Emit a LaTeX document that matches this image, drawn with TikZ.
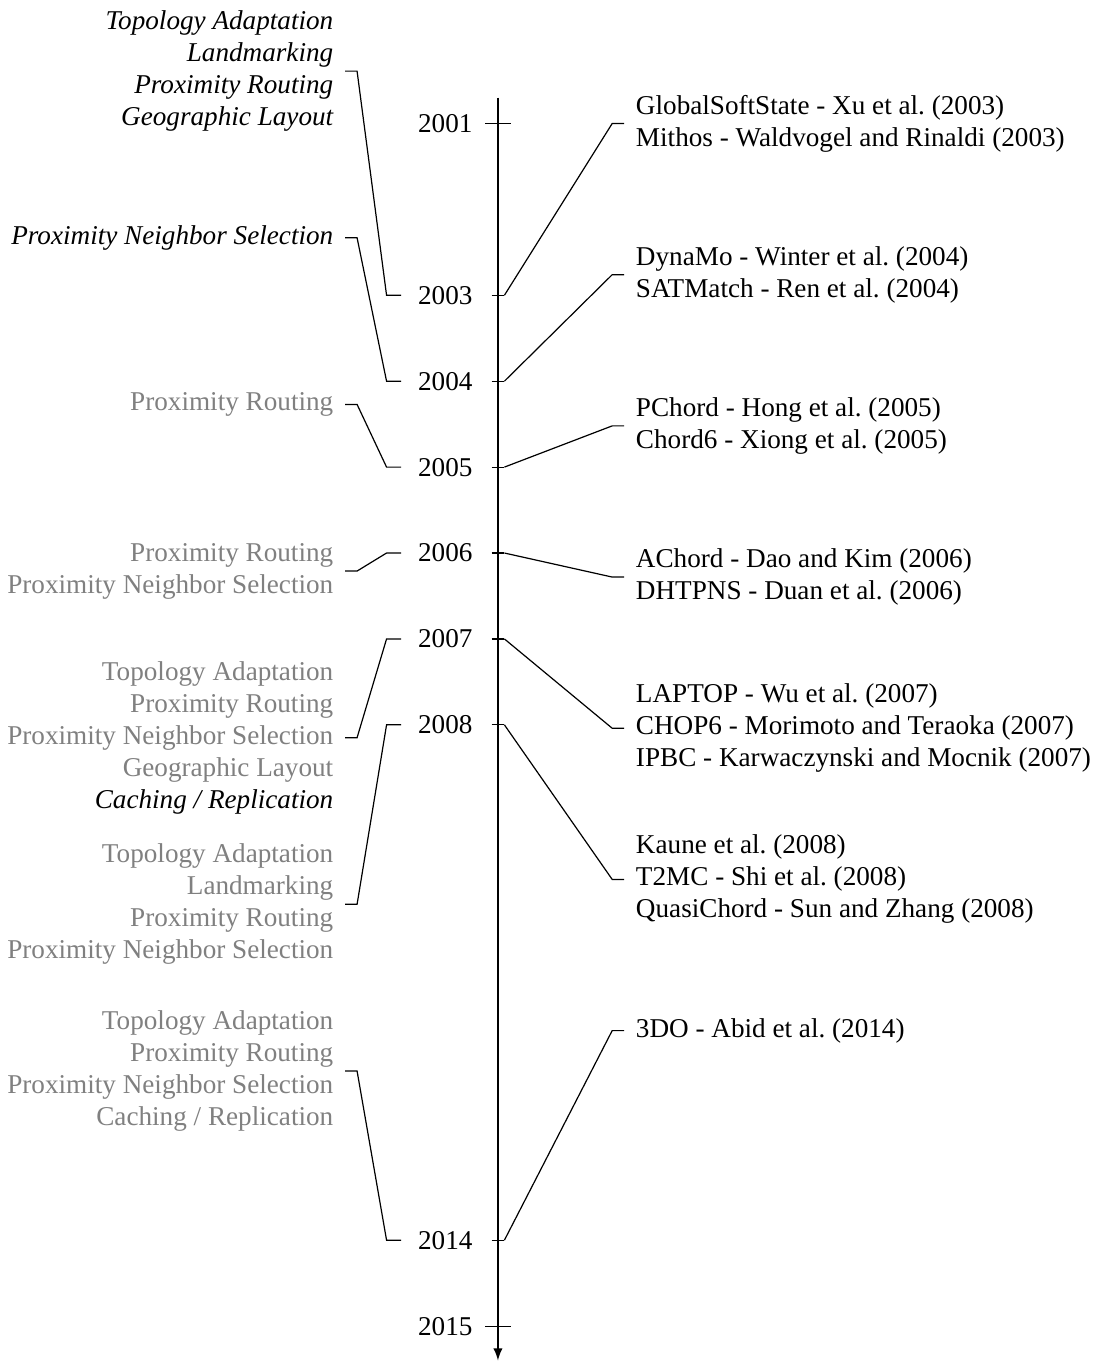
\documentclass[tikz,border=0pt]{standalone}
\usepackage{fontspec}
\setmainfont{Liberation Serif}
\usetikzlibrary{calc}
\usetikzlibrary{positioning}
\usetikzlibrary{arrows}
\frenchspacing

\begin{document}
\begin{tikzpicture}[
    every node/.style={font=\fontsize{9}{10.6}\selectfont},
    year/.style={anchor=east, inner xsep=0.19cm},
    evt/.style={anchor=west, align=left, inner xsep=0.13cm},
    cat/.style={anchor=east, align=right, inner xsep=0.13cm, text=gray},
    newcat/.style={cat, text=black, font=\fontsize{9}{10.6}\selectfont\itshape}]
    \useasboundingbox (-5.797,1.438) rectangle (7.031,-14.418);
    \def\ls{1.94}
    \def\rs{1.76}

    % time axis
    \draw[-latex] (0,0.3) -- (0,-14.4);
    \draw (-0.147,0) -- (0.147,0);
    \draw (-0.147,-14) -- (0.147,-14);
    \node[year] (y2001) at (-0.1,0) {2001};
    \node[year] (y2015) at (-0.1,-14) {2015};
    \foreach \yr/\y in {2003/-2, 2004/-3, 2005/-4, 2006/-5, 2007/-6, 2008/-7, 2014/-13} {
        \draw (-0.075,\y) -- (0.075,\y);
        \coordinate (t\yr) at (0.075,\y);
        \node[year] (y\yr) at (-0.1,\y) {\yr};
    }

    % categories
    \node[newcat] (c2003) at (-1.78, 0.61) {Topology Adaptation\\Landmarking\\Proximity Routing\\Geographic Layout};
    \node[newcat] (c2004) at (-1.78, 0.61-\ls) {Proximity Neighbor Selection};
    \node[cat] (c2005) at (-1.78, 0.61-2*\ls) {Proximity Routing};
    \node[cat] (c2006) at (-1.78, 0.61-3*\ls) {Proximity Routing\\Proximity Neighbor Selection};
    \node[cat] (c2007) at (-1.78, 0.61-4*\ls) {Topology Adaptation\\Proximity Routing\\Proximity Neighbor Selection\\Geographic Layout\\{\color{black}\itshape Caching / Replication}};
    \node[cat] (c2008) at (-1.78, 0.61-5*\ls) {Topology Adaptation\\Landmarking\\Proximity Routing\\Proximity Neighbor Selection};
    \node[cat] (c2014) at (-1.78, 0.61-6*\ls) {Topology Adaptation\\Proximity Routing\\Proximity Neighbor Selection\\Caching / Replication};

    % systems
    \node[evt] (e2003) at (1.47, 0) {GlobalSoftState - Xu et al. (2003)\\Mithos - Waldvogel and Rinaldi (2003)};
    \node[evt] (e2004) at (1.47, -\rs) {DynaMo - Winter et al. (2004)\\SATMatch - Ren et al. (2004)};
    \node[evt] (e2005) at (1.47, -2*\rs) {PChord - Hong et al. (2005)\\Chord6 - Xiong et al. (2005)};
    \node[evt] (e2006) at (1.47, -3*\rs) {AChord - Dao and Kim (2006)\\DHTPNS - Duan et al. (2006)};
    \node[evt] (e2007) at (1.47, -4*\rs) {LAPTOP - Wu et al. (2007)\\CHOP6 - Morimoto and Teraoka (2007)\\IPBC - Karwaczynski and Mocnik (2007)};
    \node[evt] (e2008) at (1.47, -5*\rs) {Kaune et al. (2008)\\T2MC - Shi et al. (2008)\\QuasiChord - Sun and Zhang (2008)};
    \node[evt] (e2014) at (1.47, -6*\rs) {3DO - Abid et al. (2014)};

    \foreach \yr in {2003,2004,2005,2006,2007,2008,2014} {
        \draw (c\yr.east) -- ++(0.14,0) -- ([xshift=-0.17cm]y\yr.west) -- (y\yr.west);
        \draw (t\yr) -- ([xshift=-0.14cm]e\yr.west) -- (e\yr.west);
    }
\end{tikzpicture}
\end{document}
